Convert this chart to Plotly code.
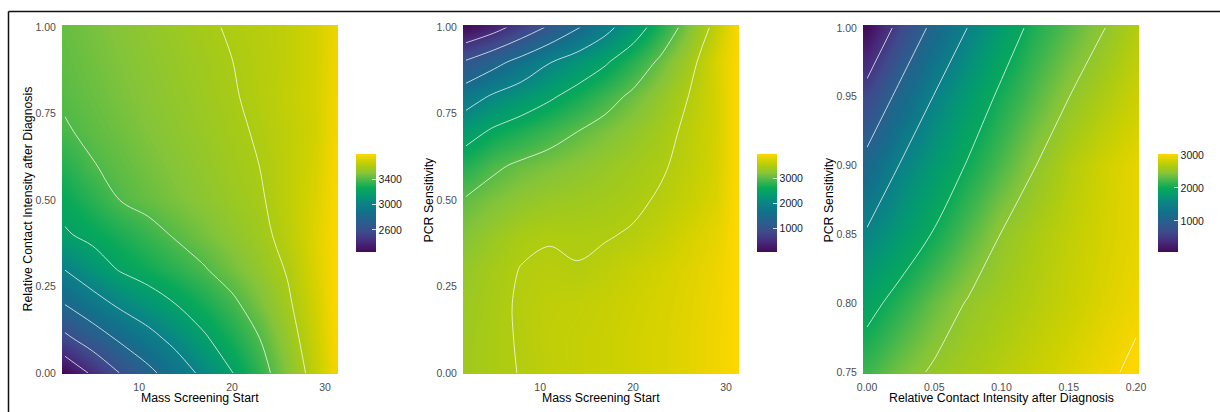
import plotly.graph_objects as go

W, H = 1220, 412

# ---------------- data ----------------
# Panel 1: Mass Screening Start (x) vs Relative Contact Intensity after Diagnosis (y)
p1_x = [2, 5, 8, 11, 14, 17, 20, 23, 26, 29, 31]
p1_y = [0.0, 0.1, 0.2, 0.3, 0.4, 0.5, 0.6, 0.7, 0.8, 0.9, 1.0]
p1_z = [
    [2250, 2430, 2607, 2756, 2900, 3045, 3195, 3341, 3497, 3659, 3768],
    [2558, 2699, 2831, 2941, 3057, 3180, 3291, 3401, 3543, 3685, 3780],
    [2805, 2927, 3034, 3118, 3203, 3287, 3372, 3473, 3582, 3700, 3790],
    [3004, 3115, 3214, 3273, 3332, 3391, 3461, 3533, 3610, 3720, 3790],
    [3183, 3241, 3299, 3357, 3414, 3465, 3517, 3568, 3640, 3730, 3790],
    [3253, 3328, 3402, 3439, 3476, 3513, 3551, 3588, 3650, 3720, 3785],
    [3320, 3394, 3431, 3465, 3499, 3533, 3567, 3601, 3650, 3710, 3780],
    [3389, 3425, 3456, 3487, 3518, 3549, 3580, 3612, 3650, 3700, 3770],
    [3415, 3444, 3474, 3503, 3532, 3561, 3591, 3625, 3660, 3705, 3765],
    [3430, 3458, 3486, 3515, 3543, 3571, 3599, 3625, 3655, 3700, 3760],
    [3440, 3469, 3498, 3527, 3556, 3585, 3610, 3630, 3655, 3700, 3755],
]
p1_ticks = [2600, 3000, 3400]

# Panel 2: Mass Screening Start (x) vs PCR Sensitivity (y)
p2_x = [2, 5, 8, 11, 14, 17, 20, 23, 26, 29, 31]
p2_y = [0.0, 0.1, 0.2, 0.3, 0.4, 0.5, 0.6, 0.7, 0.8, 0.9, 1.0]
p2_z = [
    [3380, 3450, 3510, 3580, 3620, 3650, 3700, 3740, 3800, 3880, 3950],
    [3370, 3450, 3520, 3590, 3620, 3650, 3700, 3740, 3800, 3880, 3950],
    [3350, 3440, 3530, 3580, 3600, 3630, 3680, 3730, 3790, 3870, 3950],
    [3300, 3420, 3510, 3540, 3510, 3570, 3640, 3700, 3770, 3860, 3950],
    [3180, 3330, 3440, 3480, 3470, 3480, 3525, 3610, 3720, 3820, 3950],
    [3030, 3150, 3260, 3330, 3360, 3400, 3450, 3530, 3630, 3760, 3940],
    [2726, 2941, 3060, 3142, 3224, 3306, 3388, 3470, 3580, 3730, 3930],
    [2327, 2556, 2702, 2849, 2995, 3131, 3267, 3402, 3560, 3720, 3930],
    [1779, 2063, 2253, 2443, 2648, 2859, 3072, 3287, 3505, 3720, 3930],
    [1048, 1350, 1660, 1979, 2219, 2453, 2752, 3069, 3395, 3750, 3920],
    [60, 330, 695, 1066, 1460, 1855, 2280, 2720, 3162, 3620, 3900],
]
p2_ticks = [1000, 2000, 3000]

# Panel 3: Relative Contact Intensity after Diagnosis (x) vs PCR Sensitivity (y)
p3_x = [0.0, 0.025, 0.05, 0.075, 0.1, 0.125, 0.15, 0.175, 0.2]
p3_y = [0.75, 0.80, 0.85, 0.90, 0.95, 1.0]
p3_z = [
    [2198, 2392, 2537, 2621, 2705, 2789, 2872, 2956, 3040],
    [1894, 2121, 2336, 2521, 2610, 2699, 2787, 2876, 2960],
    [1542, 1783, 2024, 2268, 2510, 2640, 2750, 2840, 2920],
    [1127, 1523, 1775, 2024, 2260, 2495, 2680, 2820, 2920],
    [650, 1117, 1517, 1796, 2059, 2278, 2497, 2650, 2800],
    [80, 641, 1108, 1509, 1824, 2087, 2286, 2484, 2680],
]
p3_ticks = [1000, 2000, 3000]

# viridis-like palette as it appears in the reference rendering
SCALE = [
    [0.00, "#420a57"],
    [0.10, "#472a7a"],
    [0.20, "#3e4a8c"],
    [0.30, "#2a5e8d"],
    [0.40, "#136f8b"],
    [0.50, "#0a8486"],
    [0.58, "#049a70"],
    [0.65, "#08a85a"],
    [0.72, "#3cb54e"],
    [0.80, "#84c43a"],
    [0.87, "#aacb14"],
    [0.93, "#cfd100"],
    [1.00, "#ffd700"],
]

# ---------------- layout helpers ----------------
def fx(px):
    return px / W

def fy(py):
    return 1 - py / H

FONT = "Liberation Sans, Arial, Helvetica, sans-serif"
LINE = "rgba(255,255,255,0.72)"

panels = [
    dict(x=p1_x, y=p1_y, z=p1_z, zmin=2250, zmax=3800, lv=(2400, 3600, 200),
         ticks=p1_ticks, dom=(62, 338), xr=[1.7, 31.4], yr=[-0.003, 1.007],
         cb=356, xt="Mass Screening Start",
         yt="Relative Contact Intensity after Diagnosis", ytx=27,
         xtick=dict(tickvals=[10, 20, 30]),
         ytick=dict(tickvals=[0, 0.25, 0.5, 0.75, 1.0], tickformat=".2f")),
    dict(x=p2_x, y=p2_y, z=p2_z, zmin=40, zmax=3960, lv=(500, 3500, 500),
         ticks=p2_ticks, dom=(463, 739), xr=[1.7, 31.4], yr=[-0.003, 1.007],
         cb=757, xt="Mass Screening Start", yt="PCR Sensitivity", ytx=428,
         xtick=dict(tickvals=[10, 20, 30]),
         ytick=dict(tickvals=[0, 0.25, 0.5, 0.75, 1.0], tickformat=".2f")),
    dict(x=p3_x, y=p3_y, z=p3_z, zmin=60, zmax=3030, lv=(500, 3000, 500),
         ticks=p3_ticks, dom=(863, 1139), xr=[-0.003, 0.2022], yr=[0.7485, 1.0022],
         cb=1158, xt="Relative Contact Intensity after Diagnosis",
         yt="PCR Sensitivity", ytx=828,
         xtick=dict(tickvals=[0, 0.05, 0.1, 0.15, 0.2], tickformat=".2f"),
         ytick=dict(tickvals=[0.75, 0.8, 0.85, 0.9, 0.95, 1.0], tickformat=".2f")),
]

fig = go.Figure()
annotations = []
for i, p in enumerate(panels, start=1):
    xa = "x" if i == 1 else f"x{i}"
    ya = "y" if i == 1 else f"y{i}"
    fig.add_trace(go.Heatmap(
        x=p["x"], y=p["y"], z=p["z"], zsmooth="best",
        colorscale=SCALE, zmin=p["zmin"], zmax=p["zmax"],
        xaxis=xa, yaxis=ya, hoverinfo="skip",
        colorbar=dict(
            x=fx(p["cb"]), xanchor="left", xpad=0, ypad=0,
            y=fy(203), yanchor="middle", len=98, lenmode="pixels",
            thickness=20, outlinewidth=0,
            tickvals=p["ticks"], ticks="inside", ticklen=4,
            tickcolor="rgba(255,255,255,0.8)", tickwidth=1,
            tickfont=dict(family=FONT, size=10.5, color="#1a1a1a"),
        ),
    ))
    fig.add_trace(go.Contour(
        x=p["x"], y=p["y"], z=p["z"], showscale=False,
        contours=dict(coloring="none", start=p["lv"][0], end=p["lv"][1],
                      size=p["lv"][2]),
        line=dict(color=LINE, width=1, smoothing=1),
        xaxis=xa, yaxis=ya, hoverinfo="skip",
    ))
    axcommon = dict(showgrid=False, zeroline=False, showline=False,
                    automargin=False,
                    ticks="outside", ticklen=3, tickcolor="rgba(0,0,0,0)",
                    tickfont=dict(family=FONT, size=10.5, color="#4d4d4d"))
    fig.update_layout(**{
        ("xaxis" if i == 1 else f"xaxis{i}"): dict(
            domain=[fx(p["dom"][0]), fx(p["dom"][1])], range=p["xr"],
            anchor=ya, **axcommon, **p["xtick"]),
        ("yaxis" if i == 1 else f"yaxis{i}"): dict(
            domain=[fy(374), fy(25)], range=p["yr"],
            anchor=xa, **axcommon, **p["ytick"]),
    })
    annotations.append(dict(
        text=p["xt"], xref="paper", yref="paper",
        x=fx((p["dom"][0] + p["dom"][1]) / 2), y=fy(398),
        xanchor="center", yanchor="middle", showarrow=False,
        font=dict(family=FONT, size=12.3, color="#000000")))
    annotations.append(dict(
        text=p["yt"], xref="paper", yref="paper",
        x=fx(p["ytx"]), y=fy(199.5), textangle=-90,
        xanchor="center", yanchor="middle", showarrow=False,
        font=dict(family=FONT, size=12.3, color="#000000")))

fig.update_layout(
    width=W, height=H,
    margin=dict(l=0, r=0, t=0, b=0, pad=0, autoexpand=False),
    paper_bgcolor="white", plot_bgcolor="white",
    annotations=annotations,
    showlegend=False,
    shapes=[
        dict(type="line", xref="paper", yref="paper",
             x0=fx(8.5), x1=1.0, y0=fy(11.5), y1=fy(11.5),
             line=dict(color="#111111", width=1.5)),
        dict(type="line", xref="paper", yref="paper",
             x0=fx(8.5), x1=fx(8.5), y0=fy(11.5), y1=0,
             line=dict(color="#111111", width=1.5)),
    ],
)

page_fix = (
    "document.body.style.margin='0';"
    "document.body.style.padding='0';"
    "document.body.style.overflow='hidden';"
    "document.documentElement.style.overflow='hidden';"
)
fig.write_html("out.html", post_script=page_fix,
               config={"displayModeBar": False, "responsive": False})
